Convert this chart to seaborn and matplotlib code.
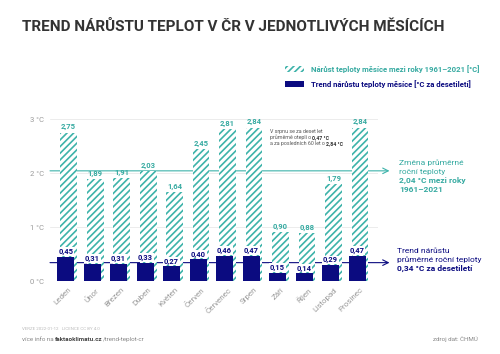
import numpy as np
import pandas as pd
import seaborn as sns
import matplotlib.pyplot as plt
from matplotlib.patches import Patch

months = ['Leden', 'Únor', 'Březen', 'Duben', 'Květen', 'Červen',
          'Červenec', 'Srpen', 'Září', 'Říjen', 'Listopad', 'Prosinec']
growth = [2.75, 1.89, 1.91, 2.03, 1.64, 2.45, 2.81, 2.84, 0.90, 0.88, 1.79, 2.84]
trend = [0.45, 0.31, 0.31, 0.33, 0.27, 0.40, 0.46, 0.47, 0.15, 0.14, 0.29, 0.47]
yearly_growth = 2.04
yearly_trend = 0.34
yticks = [0, 1, 2, 3]

teal = '#3db3aa'
teal_txt = '#36aaa1'
navy = '#0b0b80'
grey = '#9a9a9a'

sns.set_style('white')
plt.rcParams['font.family'] = ['Roboto', 'DejaVu Sans']
plt.rcParams['hatch.linewidth'] = 1.2

W, H = 500, 354
fig = plt.figure(figsize=(W / 100, H / 100), dpi=100)
ax = fig.add_axes([50 / W, 1 - 281 / H, (378 - 50) / W, (281 - 119) / H])

df = pd.DataFrame({'Měsíc': months, 'Nárůst': growth, 'Trend': trend})

sns.barplot(data=df, x='Měsíc', y='Nárůst', order=months, width=0.64,
            color='white', edgecolor=teal, hatch='/////', linewidth=0, ax=ax, zorder=3)
n_growth = len(ax.patches)
sns.barplot(data=df, x='Měsíc', y='Trend', order=months, width=0.64,
            color=navy, linewidth=0, saturation=1, ax=ax, zorder=4)
for p in ax.patches[:n_growth]:
    p.set_linewidth(0)
for p in ax.patches[n_growth:]:
    p.set_x(p.get_x() - 0.11)
    p.set_linewidth(0)

ax.set_xlim(-0.70, 11.68)
ax.set_ylim(0, 3)
ax.set_xlabel('')
ax.set_ylabel('')
ax.set_yticks(yticks)
ax.set_yticklabels([f'{t} °C' for t in yticks], fontsize=5.5, color=grey)
ax.set_xticks(range(len(months)))
ax.set_xticklabels(months, rotation=45, ha='right', rotation_mode='anchor',
                   fontsize=5.8, color=grey)
ax.tick_params(axis='both', length=0, pad=4)
for t in yticks:
    ax.axhline(t, color='#ececec', lw=0.7, zorder=0)
sns.despine(ax=ax, left=True, bottom=True)

# average lines with arrows
for val, col in [(yearly_growth, teal), (yearly_trend, navy)]:
    ax.annotate('', xy=(1.035, val), xycoords=('axes fraction', 'data'),
                xytext=(0, val), textcoords=('axes fraction', 'data'),
                arrowprops=dict(arrowstyle='->', color=col, lw=0.8,
                                shrinkA=0, shrinkB=0), zorder=2)

# value labels
for i, (g, t) in enumerate(zip(growth, trend)):
    ax.text(i, g + 0.04, f'{g:.2f}'.replace('.', ','), ha='center', va='bottom',
            fontsize=5.5, fontweight='bold', color=teal_txt, zorder=6)
    ax.text(i - 0.11, t + 0.035, f'{t:.2f}'.replace('.', ','), ha='center', va='bottom',
            fontsize=5.5, fontweight='bold', color=navy, zorder=6,
            bbox=dict(boxstyle='square,pad=0.12', fc='white', ec='none'))

renderer = fig.canvas.get_renderer()


def rich(x, y, parts, size, color):
    """draw text pieces in a row, x/y in pixels (from top-left)"""
    for s, bold, c in parts:
        t = fig.text(x / W, 1 - y / H, s, fontsize=size,
                     fontweight='bold' if bold else 'normal',
                     color=c or color, va='baseline', ha='left')
        x += t.get_window_extent(renderer).width


# title
fig.text(22 / W, 1 - 31 / H, 'TREND NÁRŮSTU TEPLOT V ČR V JEDNOTLIVÝCH MĚSÍCÍCH',
         fontsize=11, fontweight='bold', color='#333333', va='baseline')

# legend
fig.legend(handles=[Patch(facecolor='white', edgecolor=teal, hatch='/////', lw=0),
                    Patch(facecolor=navy, lw=0)],
           labels=['Nárůst teploty měsíce mezi roky 1961–2021 [°C]',
                   'Trend nárůstu teploty měsíce [°C za desetiletí]'],
           labelcolor=[teal_txt, navy], prop={'size': 5.6, 'weight': 'bold'},
           loc='upper left', bbox_to_anchor=(278 / W, 1 - 58 / H), frameon=False,
           handlelength=2.4, handleheight=0.9, handletextpad=1.0, labelspacing=0.9)

# in-plot note
rich(270, 133, [('V srpnu se za deset let', False, None)], 3.8, '#555555')
rich(270, 139, [('průměrně oteplí o ', False, None), ('0,47 °C', True, '#333333')], 3.8, '#555555')
rich(270, 145, [('a za posledních 60 let o ', False, None), ('2,84 °C', True, '#333333')], 3.8, '#555555')

# right side notes
rich(399, 165, [('Změna průměrné', False, None)], 6, teal_txt)
rich(399, 174, [('roční teploty', False, None)], 6, teal_txt)
rich(399, 183, [('2,04 °C mezi roky', True, None)], 6, teal_txt)
rich(399, 192, [('1961–2021', True, None)], 6, teal_txt)
rich(397, 253, [('Trend nárůstu', False, None)], 6, navy)
rich(397, 262, [('průměrné roční teploty', False, None)], 6, navy)
rich(397, 271, [('0,34 °C za desetiletí', True, None)], 6, navy)

# footer
rich(22, 330, [('VERZE 2022-01-12   LICENCE CC BY 4.0', False, None)], 3.2, '#bbbbbb')
rich(22, 341, [('více info na ', False, None), ('faktaoklimatu.cz', True, '#444444'),
               ('/trend-teplot-cr', False, None)], 4.5, '#888888')
fig.text(478 / W, 1 - 341 / H, 'zdroj dat: ČHMÚ', fontsize=4.5, color='#888888',
         ha='right', va='baseline')

fig.savefig('out.png', dpi=100)
